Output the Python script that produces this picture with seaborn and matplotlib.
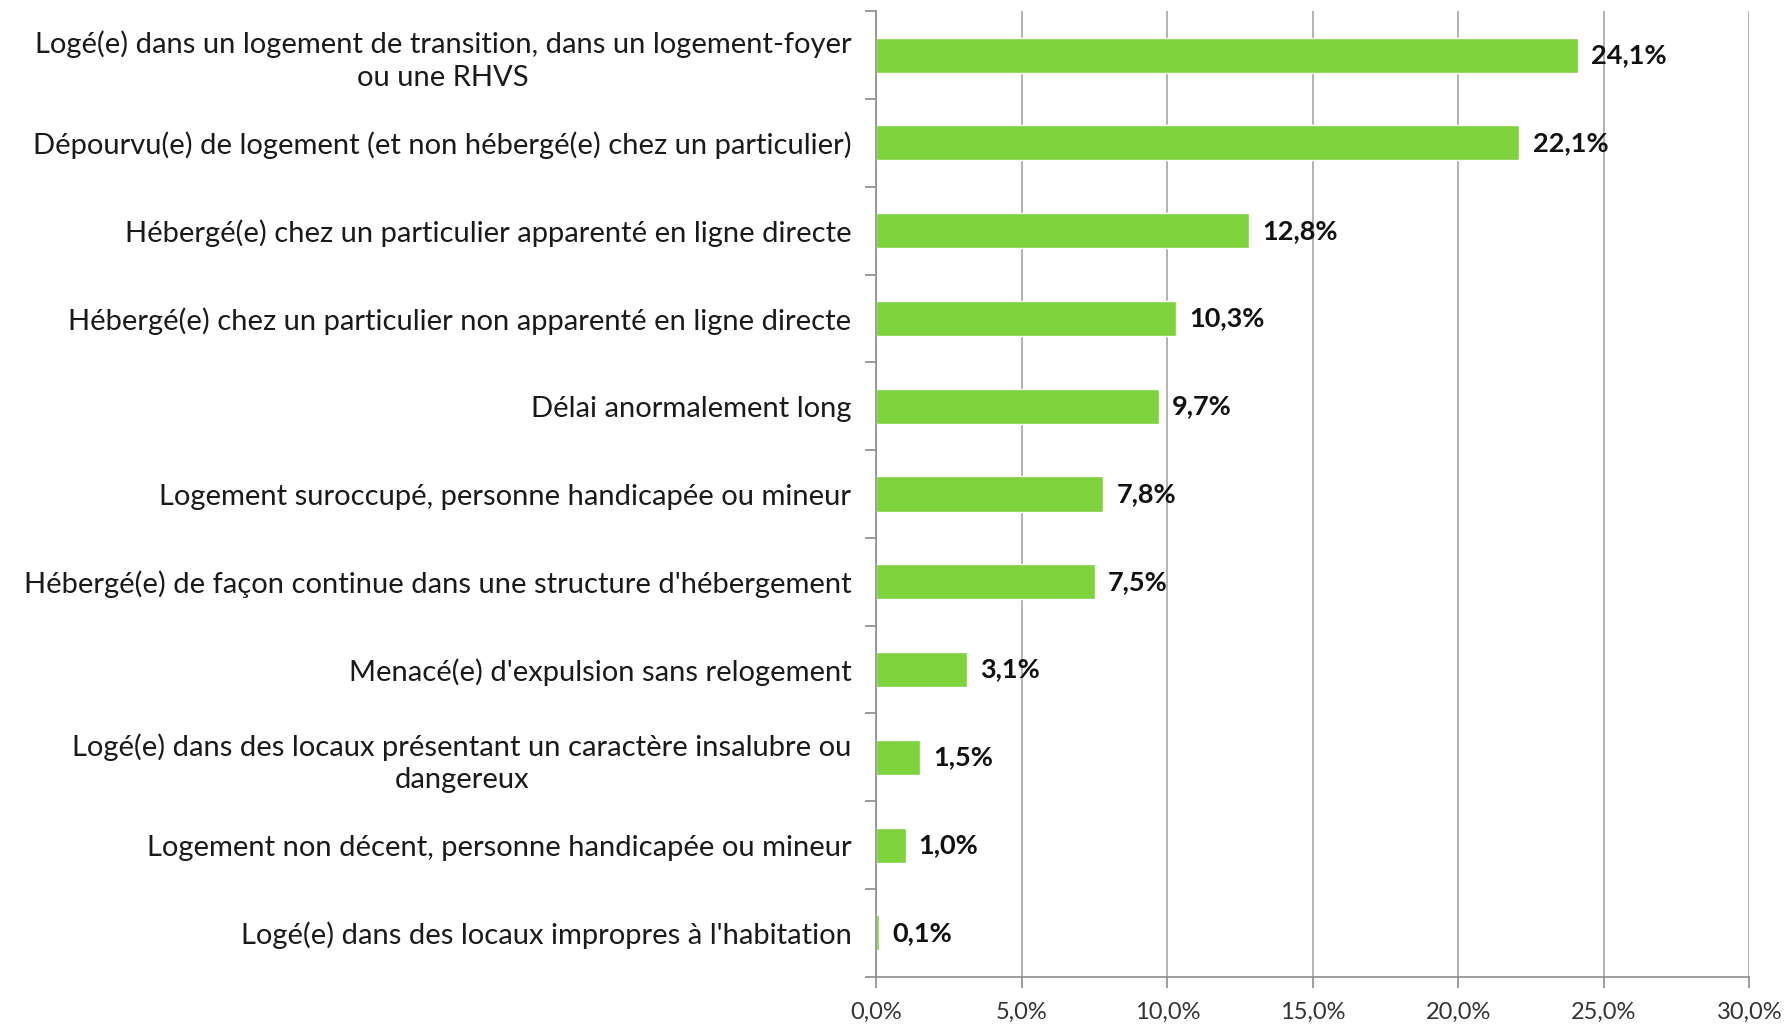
import matplotlib
matplotlib.use("Agg")
import matplotlib.pyplot as plt
import seaborn as sns
import pandas as pd
from matplotlib.ticker import FuncFormatter, MultipleLocator, FixedLocator

categories = [
    "Logé(e) dans un logement de transition, dans un logement-foyer\nou une RHVS",
    "Dépourvu(e) de logement (et non hébergé(e) chez un particulier)",
    "Hébergé(e) chez un particulier apparenté en ligne directe",
    "Hébergé(e) chez un particulier non apparenté en ligne directe",
    "Délai anormalement long",
    "Logement suroccupé, personne handicapée ou mineur",
    "Hébergé(e) de façon continue dans une structure d'hébergement",
    "Menacé(e) d'expulsion sans relogement",
    "Logé(e) dans des locaux présentant un caractère insalubre ou\ndangereux",
    "Logement non décent, personne handicapée ou mineur",
    "Logé(e) dans des locaux impropres à l'habitation",
]
values = [24.1, 22.1, 12.8, 10.3, 9.7, 7.8, 7.5, 3.1, 1.5, 1.0, 0.1]

df = pd.DataFrame({"cat": categories, "val": values})

sns.set_style("white")
plt.rcParams["font.family"] = ["Lato", "DejaVu Sans"]

fig = plt.figure(figsize=(17.85, 10.25), dpi=100)
ax = fig.add_axes([0.491, 0.047, 0.489, 0.942])

sns.barplot(data=df, x="val", y="cat", orient="h", color="#7ED23C",
            saturation=1, width=0.4, ax=ax)

ax.set_xlim(0, 30)
ax.set_ylim(len(categories) - 0.5, -0.5)
ax.xaxis.set_major_locator(MultipleLocator(5))
ax.xaxis.set_major_formatter(FuncFormatter(lambda v, p: f"{v:.1f}%".replace(".", ",")))
ax.grid(axis="x", color="#A6A6A6", linewidth=1.2)
ax.set_axisbelow(True)
ax.set_xlabel("")
ax.set_ylabel("")

for s in ["top", "right"]:
    ax.spines[s].set_visible(False)
for s in ["left", "bottom"]:
    ax.spines[s].set_color("#8C8C8C")
    ax.spines[s].set_linewidth(1.2)

ax.set_yticks(range(len(categories)))
ax.set_yticklabels(categories, fontsize=21, color="#1a1a1a", ha="right",
                   multialignment="center", linespacing=1.3)
ax.tick_params(axis="y", which="major", left=False, length=0, pad=18)
ax.yaxis.set_minor_locator(FixedLocator([i - 0.5 for i in range(len(categories) + 1)]))
ax.tick_params(axis="y", which="minor", left=True, length=8, color="#8C8C8C", width=1.2, direction="out")
ax.tick_params(axis="x", which="major", bottom=True, length=8, color="#8C8C8C", width=1.2,
               labelsize=17, labelcolor="#333333", pad=10)

for i, v in enumerate(values):
    ax.text(v + 0.45, i, f"{v:.1f}%".replace(".", ","), va="center", ha="left",
            fontsize=19.5, fontweight="bold", color="#111111")

fig.savefig("out.png", dpi=100)
